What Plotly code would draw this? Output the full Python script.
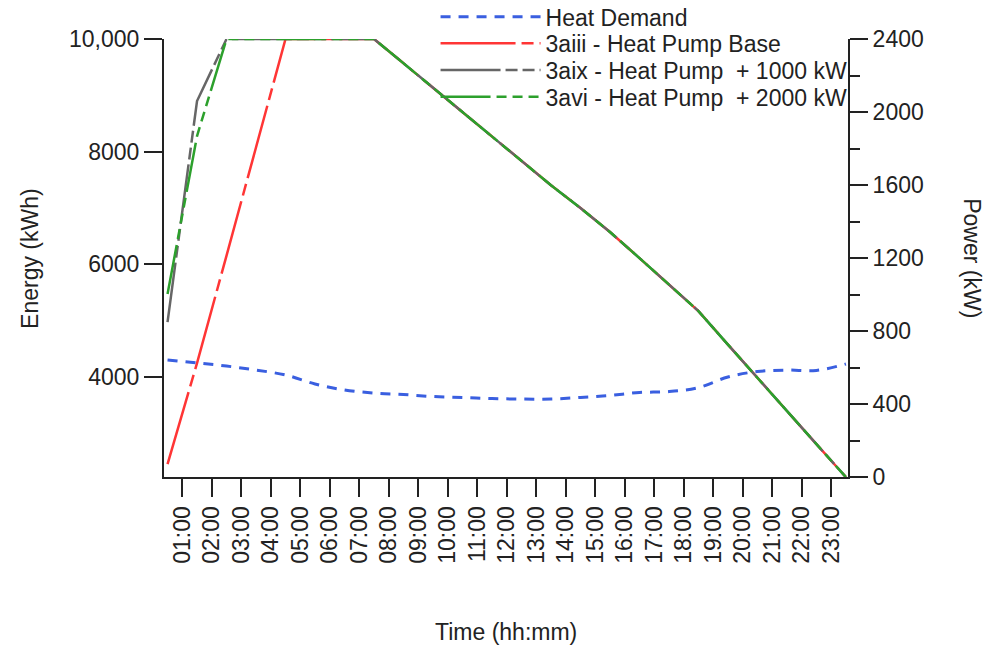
import plotly.graph_objects as go

hours = [0.5, 1.5, 2.5, 3.5, 4.5, 5.5, 6.5, 7.5, 8.5, 9.5, 10.5, 11.5,
         12.5, 13.5, 14.5, 15.5, 16.5, 17.5, 18.5, 19.5, 20.5, 21.5, 22.5, 23.5]

heat_demand_kw = [641, 625, 608, 586, 559, 510, 477, 460, 452, 441, 436, 430,
                  427, 427, 436, 447, 463, 468, 490, 548, 578, 586, 584, 619]

decline = [10000, 9568, 9134, 8702, 8267, 7835, 7401, 6995, 6569, 6106,
           5644, 5164, 4568, 3973, 3386, 2799, 2212]

hp_base_kwh = [2444, 4240, 6150, 8070, 10000, 10000, 10000] + decline
hp_1000_kwh = [4969, 8898, 10000, 10000, 10000, 10000, 10000] + decline
hp_2000_kwh = [5466, 8275, 10000, 10000, 10000, 10000, 10000] + decline

tick_hours = list(range(1, 24))
tick_labels = [f"{h:02d}:00" for h in tick_hours]

left_tickvals = [4000, 6000, 8000, 10000]
left_ticktext = ["4000", "6000", "8000", "10,000"]

FONT = "Liberation Sans, Arial, sans-serif"
AX = "#222222"
FS = 23

fig = go.Figure()
fig.add_trace(go.Scatter(x=hours, y=heat_demand_kw, name="Heat Demand", mode="lines",
                         line=dict(color="#3a5fe0", width=3, dash="10px,8px", shape="spline"),
                         yaxis="y2", legend="legend"))
fig.add_trace(go.Scatter(x=hours, y=hp_base_kwh, name="3aiii - Heat Pump Base", mode="lines",
                         line=dict(color="#ff3535", width=2.5, dash="75px,6px,12px,6px"),
                         legend="legend2"))
fig.add_trace(go.Scatter(x=hours, y=hp_1000_kwh, name="3aix - Heat Pump  + 1000 kW", mode="lines",
                         line=dict(color="#666666", width=2.5, dash="60px,5px,12px,5px,12px,5px"),
                         legend="legend3"))
fig.add_trace(go.Scatter(x=hours, y=hp_2000_kwh, name="3avi - Heat Pump  + 2000 kW", mode="lines",
                         line=dict(color="#2ca02c", width=2.5,
                                   dash="50px,6px,10px,6px,10px,6px,10px,6px"),
                         legend="legend4"))


def leg(ypaper):
    return dict(x=0.397, y=ypaper, xanchor="left", yanchor="top",
                bgcolor="rgba(0,0,0,0)", font=dict(size=FS, color=AX, family=FONT),
                itemwidth=100)


fig.update_layout(
    width=992, height=645,
    margin=dict(l=164, r=144, t=39, b=168, autoexpand=False),
    paper_bgcolor="white", plot_bgcolor="white",
    font=dict(family=FONT, size=FS, color=AX),
    showlegend=True,
    legend=leg(1.100),
    legend2=leg(1.039),
    legend3=leg(0.978),
    legend4=leg(0.917),
    xaxis=dict(range=[0.38, 23.57], tickvals=tick_hours, ticktext=tick_labels,
               tickangle=-90, ticks="outside", ticklen=18, tickwidth=2, tickcolor=AX,
               showline=True, linecolor=AX, linewidth=2, showgrid=False, zeroline=False,
               tickfont=dict(size=FS, color=AX)),
    yaxis=dict(range=[2215, 10000], tickvals=left_tickvals, ticktext=left_ticktext,
               ticks="outside", ticklen=18, tickwidth=2, tickcolor=AX,
               showline=True, linecolor=AX, linewidth=2, showgrid=False, zeroline=False,
               tickfont=dict(size=FS, color=AX)),
    yaxis2=dict(range=[0, 2400], dtick=400, tick0=0, overlaying="y", side="right",
                ticks="outside", ticklen=18, tickwidth=2, tickcolor=AX,
                minor=dict(dtick=200, ticks="outside", ticklen=10, tickwidth=2, tickcolor=AX),
                showline=True, linecolor=AX, linewidth=2, showgrid=False, zeroline=False,
                tickfont=dict(size=FS, color=AX)),
    annotations=[
        dict(text="Energy (kWh)", xref="paper", yref="paper", x=-0.196, y=0.5,
             xanchor="center", yanchor="middle",
             textangle=-90, showarrow=False, font=dict(size=FS, color=AX)),
        dict(text="Power (kW)", xref="paper", yref="paper", x=1.181, y=0.5,
             xanchor="center", yanchor="middle",
             textangle=90, showarrow=False, font=dict(size=FS, color=AX)),
        dict(text="Time (hh:mm)", xref="paper", yref="paper", x=0.5, y=-0.354,
             xanchor="center", yanchor="middle",
             showarrow=False, font=dict(size=FS, color=AX)),
    ],
)

fig.write_html("out.html")
